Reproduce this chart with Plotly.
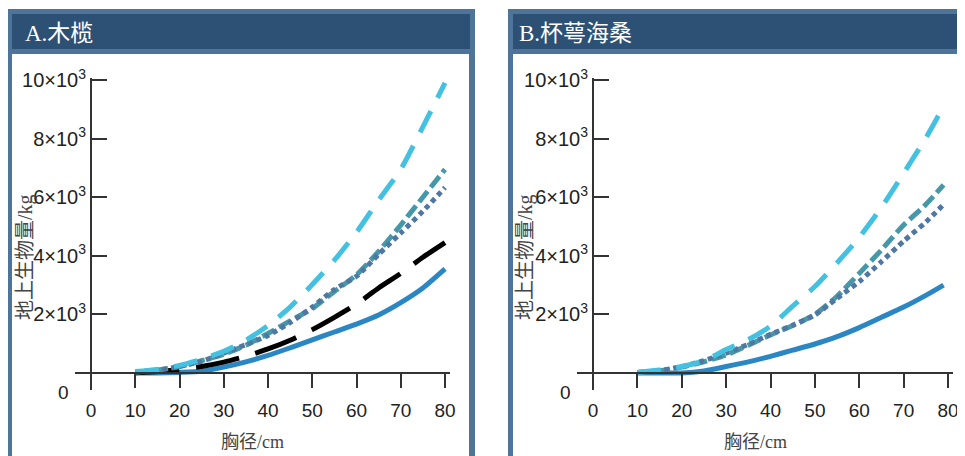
import plotly.graph_objects as go

# ---------------- data ----------------
dbh_a = [10, 15, 20, 25, 30, 35, 40, 45, 50, 55, 60, 65, 70, 75, 80]
a_cyan = [50, 120, 260, 470, 740, 1120, 1620, 2250, 3020, 3850, 4800, 5900, 6950, 8400, 9900]
a_teal = [30, 100, 220, 420, 640, 950, 1350, 1780, 2200, 2780, 3350, 4150, 5050, 6000, 6950]
a_dot = [30, 100, 220, 400, 680, 970, 1280, 1720, 2250, 2850, 3300, 4050, 4780, 5520, 6330]
a_black = [10, 50, 120, 220, 370, 570, 820, 1120, 1480, 1900, 2350, 2900, 3400, 3950, 4450]
a_blue = [0, 0, 20, 60, 200, 380, 600, 860, 1130, 1400, 1670, 1980, 2400, 2900, 3550]

dbh_b = [10, 15, 20, 25, 30, 35, 40, 45, 50, 55, 60, 65, 70, 75, 79]
b_cyan = [20, 100, 220, 420, 800, 1140, 1600, 2280, 2950, 3760, 4630, 5650, 6820, 8020, 9100]
b_teal = [20, 80, 200, 380, 620, 950, 1300, 1620, 2000, 2620, 3400, 4200, 5050, 5750, 6420]
b_dot = [20, 80, 220, 420, 680, 980, 1320, 1630, 1980, 2550, 3120, 3800, 4500, 5150, 5750]
b_blue = [0, 0, 0, 70, 220, 380, 570, 780, 990, 1240, 1550, 1900, 2250, 2650, 3000]

x_ticks = [0, 10, 20, 30, 40, 50, 60, 70, 80]
y_ticks = [2000, 4000, 6000, 8000, 10000]
y_ticktext = ["2×10<sup>3</sup>", "4×10<sup>3</sup>", "6×10<sup>3</sup>", "8×10<sup>3</sup>", "10×10<sup>3</sup>"]
titles = ["A.木榄", "B.杯萼海桑"]
x_title = "胸径/cm"
y_title = "地上生物量/kg"

# ---------------- styling ----------------
W, H = 965, 456
OFF = 8  # page body margin offset compensation
C_CYAN = "#44c0e0"
C_TEAL = "#4698a8"
C_DOT = "#4f77a2"
C_BLACK = "#000000"
C_BLUE = "#2b87c3"
BORDER = "#4e7499"
HEADER = "#2c5175"
SANS = "Liberation Sans, Arial, Noto Sans CJK SC"
SERIF = "Liberation Serif, Times New Roman, Noto Sans CJK SC"


def px(x):
    return (x - OFF) / W


def py(y):
    return 1 - (y - OFF) / H


fig = go.Figure()


def add(x, y, color, dash, xa, ya, width=5):
    fig.add_trace(go.Scatter(x=x, y=y, mode="lines", xaxis=xa, yaxis=ya,
                             line=dict(color=color, width=width, dash=dash, shape="spline", smoothing=0.6),
                             showlegend=False, hoverinfo="skip"))


add(dbh_a, a_blue, C_BLUE, "solid", "x", "y")
add(dbh_a, a_black, C_BLACK, "44px,17px", "x", "y")
add(dbh_a, a_teal, C_TEAL, "14px,5px", "x", "y")
add(dbh_a, a_dot, C_DOT, "5px,4px", "x", "y")
add(dbh_a, a_cyan, C_CYAN, "24px,15px", "x", "y")

add(dbh_b, b_blue, C_BLUE, "solid", "x2", "y2")
add(dbh_b, b_teal, C_TEAL, "14px,5px", "x2", "y2")
add(dbh_b, b_dot, C_DOT, "5px,4px", "x2", "y2")
add(dbh_b, b_cyan, C_CYAN, "24px,15px", "x2", "y2")

# panel geometry (pixels in the reference picture)
panels = [
    dict(ox0=7, ox1=475, ix0=12, ix1=470, xa0=75, xa1=450, x0px=91, x80px=445, tx=23, xt=252, yt=25),
    dict(ox0=508, ox1=990, ix0=513, ix1=985, xa0=577, xa1=953, x0px=593, x80px=948, tx=517, xt=755, yt=525),
]
y_top_px, y_bot_px, y0px, y10px = 78, 390, 373, 80

shapes = []
annotations = []
layout_axes = {}
for i, p in enumerate(panels):
    shapes.append(dict(type="rect", xref="paper", yref="paper", layer="below",
                       x0=px(p["ox0"]), x1=px(p["ox1"]), y0=py(480), y1=py(9),
                       fillcolor=BORDER, line=dict(width=0)))
    shapes.append(dict(type="rect", xref="paper", yref="paper", layer="below",
                       x0=px(p["ix0"]), x1=px(p["ix1"]), y0=py(49), y1=py(14),
                       fillcolor=HEADER, line=dict(width=0)))
    shapes.append(dict(type="rect", xref="paper", yref="paper", layer="below",
                       x0=px(p["ix0"]), x1=px(p["ix1"] - 1), y0=py(480), y1=py(54),
                       fillcolor="white", line=dict(width=0)))
    annotations.append(dict(text=titles[i], xref="paper", yref="paper", x=px(p["tx"]), y=py(34),
                            xanchor="left", yanchor="middle", showarrow=False,
                            font=dict(family=SERIF, size=23, color="white")))
    annotations.append(dict(text=x_title, xref="paper", yref="paper", x=px(p["xt"]), y=py(442),
                            xanchor="center", yanchor="middle", showarrow=False,
                            font=dict(family=SERIF, size=18, color="#444444")))
    annotations.append(dict(text=y_title, xref="paper", yref="paper", x=px(p["yt"]), y=py(257),
                            xanchor="center", yanchor="middle", showarrow=False, textangle=-90,
                            font=dict(family=SERIF, size=20, color="#444444")))
    annotations.append(dict(text="0", xref="paper", yref="paper", x=px(p["x0px"] - 28), y=py(392),
                            xanchor="center", yanchor="middle", showarrow=False,
                            font=dict(family=SANS, size=19, color="#222222")))

    scale = (p["x80px"] - p["x0px"]) / 80.0
    xr = [(p["xa0"] - p["x0px"]) / scale, (p["xa1"] - p["x0px"]) / scale]
    yscale = (y0px - y10px) / 10000.0
    yr = [(y0px - y_bot_px) / yscale, (y0px - y_top_px) / yscale]
    sfx = "" if i == 0 else str(i + 1)
    layout_axes["xaxis" + sfx] = dict(
        domain=[px(p["xa0"]), px(p["xa1"])], range=xr, anchor="free", position=py(y0px),
        automargin=False,
        showgrid=False, zeroline=False, showline=True, linecolor="#333333", linewidth=2,
        ticks="outside", ticklen=14, tickwidth=2, tickcolor="#333333",
        tickvals=x_ticks, ticklabelstandoff=6,
        tickfont=dict(family=SANS, size=19, color="#222222"), fixedrange=True)
    layout_axes["yaxis" + sfx] = dict(
        domain=[py(y_bot_px), py(y_top_px)], range=yr, anchor="free", position=px(p["x0px"]),
        automargin=False,
        showgrid=False, zeroline=False, showline=True, linecolor="#333333", linewidth=2,
        ticks="inside", ticklen=15, tickwidth=2, tickcolor="#333333",
        tickvals=y_ticks, ticktext=y_ticktext, ticklabelstandoff=0,
        tickfont=dict(family=SANS, size=20, color="#222222"), fixedrange=True)

fig.update_layout(
    width=W, height=H, margin=dict(l=0, r=0, t=0, b=0, pad=0, autoexpand=False),
    paper_bgcolor="white", plot_bgcolor="rgba(0,0,0,0)",
    shapes=shapes, annotations=annotations, showlegend=False,
    **layout_axes,
)

fig.write_html("out.html")
